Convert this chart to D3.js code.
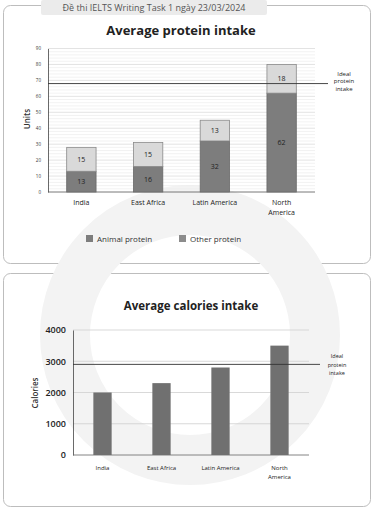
<!DOCTYPE html>
<html>
<head>
<meta charset="utf-8">
<script src="https://cdn.jsdelivr.net/npm/d3@7"></script>
<style>
  html, body { margin: 0; padding: 0; background: #fff; }
  svg { display: block; font-family: "Open Sans", "Noto Sans", sans-serif; }
</style>
</head>
<body>
<svg id="chart" width="374" height="512"></svg>
<script>
// --- Data ---
const regions = ['India', 'East Africa', 'Latin America', 'North America'];
const animalProtein = [13, 16, 32, 62];
const otherProtein = [15, 15, 13, 18];
const proteinTicks = [0, 10, 20, 30, 40, 50, 60, 70, 80, 90];
const idealProtein = 68;
const calories = [2000, 2300, 2800, 3500];
const calorieTicks = [0, 1000, 2000, 3000, 4000];
const idealCalories = 2900;
const idealLabel = ['Ideal', 'protein', 'intake'];

const svg = d3.select('#chart');

// --- Panels and header tab ---
svg.append('rect')
  .attr('x', 3.5).attr('y', 5.5).attr('width', 367).attr('height', 258)
  .attr('rx', 7).attr('fill', '#fff').attr('stroke', '#bdbdbd');
svg.append('rect')
  .attr('x', 3.5).attr('y', 273.5).attr('width', 367).attr('height', 233)
  .attr('rx', 7).attr('fill', '#fff').attr('stroke', '#bdbdbd');

svg.append('rect')
  .attr('x', 41).attr('y', 0).attr('width', 226).attr('height', 15)
  .attr('rx', 2).attr('fill', '#ebebeb');
svg.append('text')
  .attr('x', 154).attr('y', 10.5)
  .attr('text-anchor', 'middle')
  .attr('font-size', 9).attr('fill', '#555')
  .text('Đề thi IELTS Writing Task 1 ngày 23/03/2024');

// faint watermark ring
svg.append('circle')
  .attr('cx', 190).attr('cy', 335).attr('r', 125)
  .attr('fill', 'none').attr('stroke', '#f3f3f3').attr('stroke-width', 50);

// ============================================================
// Protein chart
// ============================================================
const p = { left: 48, right: 315, top: 48.5, bottom: 192 };

const xP = d3.scaleBand()
  .domain(regions)
  .range([p.left, p.right])
  .paddingInner(0.56)
  .paddingOuter(0.28);

const yP = d3.scaleLinear().domain([0, 90]).range([p.bottom, p.top]);

svg.append('text')
  .attr('x', 181).attr('y', 35)
  .attr('text-anchor', 'middle')
  .attr('font-size', 13).attr('font-weight', 700).attr('fill', '#222')
  .text('Average protein intake');

// minor + major gridlines
const gP = svg.append('g');
gP.selectAll('line.minor')
  .data(d3.range(2, 90, 2).filter(v => v % 10 !== 0))
  .enter().append('line')
  .attr('x1', p.left).attr('x2', p.right)
  .attr('y1', d => yP(d)).attr('y2', d => yP(d))
  .attr('stroke', '#ececec').attr('stroke-width', 0.7);
gP.selectAll('line.major')
  .data(proteinTicks.slice(1))
  .enter().append('line')
  .attr('x1', p.left).attr('x2', p.right)
  .attr('y1', d => yP(d)).attr('y2', d => yP(d))
  .attr('stroke', '#dcdcdc').attr('stroke-width', 0.8);

// y axis
const axP = svg.append('g')
  .attr('transform', `translate(${p.left},0)`)
  .call(d3.axisLeft(yP).tickValues(proteinTicks).tickSize(0).tickPadding(7));
axP.select('.domain').attr('stroke', '#444').attr('stroke-width', 0.8);
axP.selectAll('text').attr('font-size', 4.5).attr('fill', '#333').attr('font-family', 'Open Sans');

svg.append('line')
  .attr('x1', p.left).attr('x2', p.right)
  .attr('y1', p.bottom).attr('y2', p.bottom)
  .attr('stroke', '#555').attr('stroke-width', 0.8);

svg.append('text')
  .attr('transform', 'translate(30,119) rotate(-90)')
  .attr('text-anchor', 'middle')
  .attr('font-size', 8).attr('font-weight', 600).attr('fill', '#333')
  .text('Units');

// stacked bars
const stacked = regions.map((r, i) => ({ region: r, animal: animalProtein[i], other: otherProtein[i] }));

const barsP = svg.append('g');
barsP.selectAll('rect.animal')
  .data(stacked)
  .enter().append('rect')
  .attr('x', d => xP(d.region))
  .attr('width', xP.bandwidth())
  .attr('y', d => yP(d.animal))
  .attr('height', d => yP(0) - yP(d.animal))
  .attr('fill', '#7d7d7d').attr('stroke', '#6a6a6a').attr('stroke-width', 0.8);
barsP.selectAll('rect.other')
  .data(stacked)
  .enter().append('rect')
  .attr('x', d => xP(d.region))
  .attr('width', xP.bandwidth())
  .attr('y', d => yP(d.animal + d.other))
  .attr('height', d => yP(d.animal) - yP(d.animal + d.other))
  .attr('fill', '#d9d9d9').attr('stroke', '#8a8a8a').attr('stroke-width', 0.8);

barsP.selectAll('text.animal')
  .data(stacked)
  .enter().append('text')
  .attr('x', d => xP(d.region) + xP.bandwidth() / 2)
  .attr('y', d => yP(d.animal / 2) + 2.5)
  .attr('text-anchor', 'middle')
  .attr('font-size', 7).attr('fill', '#222')
  .text(d => d.animal);
barsP.selectAll('text.other')
  .data(stacked)
  .enter().append('text')
  .attr('x', d => xP(d.region) + xP.bandwidth() / 2)
  .attr('y', d => yP(d.animal + d.other / 2) + 2.5)
  .attr('text-anchor', 'middle')
  .attr('font-size', 7).attr('fill', '#222')
  .text(d => d.other);

// ideal line + label
svg.append('line')
  .attr('x1', p.left).attr('x2', 328)
  .attr('y1', yP(idealProtein)).attr('y2', yP(idealProtein))
  .attr('stroke', '#333').attr('stroke-width', 0.9);
svg.append('text')
  .attr('x', 344).attr('y', yP(idealProtein) - 8)
  .attr('text-anchor', 'middle')
  .attr('font-size', 6).attr('fill', '#222')
  .selectAll('tspan').data(idealLabel).enter().append('tspan')
  .attr('x', 344).attr('dy', (d, i) => i === 0 ? 0 : 7.5)
  .text(d => d);

// x labels
const xLabP = svg.append('g');
regions.forEach(r => {
  const words = r === 'North America' ? ['North', 'America'] : [r];
  const t = xLabP.append('text')
    .attr('x', xP(r) + xP.bandwidth() / 2).attr('y', 205)
    .attr('text-anchor', 'middle')
    .attr('font-size', 7).attr('fill', '#222');
  words.forEach((w, i) => {
    t.append('tspan').attr('x', xP(r) + xP.bandwidth() / 2).attr('dy', i ? 10 : 0).text(w);
  });
});

// legend
const legend = [
  { label: 'Animal protein', x: 86, color: '#7d7d7d' },
  { label: 'Other protein', x: 179, color: '#8c8c8c' }
];
const lg = svg.selectAll('g.legend').data(legend).enter().append('g');
lg.append('rect')
  .attr('x', d => d.x).attr('y', 235).attr('width', 7).attr('height', 7)
  .attr('fill', d => d.color);
lg.append('text')
  .attr('x', d => d.x + 11).attr('y', 241.5)
  .attr('font-size', 8).attr('fill', '#333')
  .text(d => d.label);

// ============================================================
// Calories chart
// ============================================================
const c = { left: 73, right: 309, top: 330, bottom: 455 };

const xC = d3.scaleBand()
  .domain(regions)
  .range([c.left, c.right])
  .paddingInner(0.69)
  .paddingOuter(0.345);

const yC = d3.scaleLinear().domain([0, 4000]).range([c.bottom, c.top]);

svg.append('text')
  .attr('x', 191).attr('y', 310)
  .attr('text-anchor', 'middle')
  .attr('font-size', 11.5).attr('font-weight', 700).attr('fill', '#222')
  .text('Average calories intake');

svg.append('g').selectAll('line')
  .data(calorieTicks.slice(1))
  .enter().append('line')
  .attr('x1', c.left).attr('x2', c.right)
  .attr('y1', d => yC(d)).attr('y2', d => yC(d))
  .attr('stroke', '#cfcfcf').attr('stroke-width', 0.8);

const axC = svg.append('g')
  .attr('transform', `translate(${c.left},0)`)
  .call(d3.axisLeft(yC).tickValues(calorieTicks).tickSize(0).tickPadding(7).tickFormat(d3.format('d')));
axC.select('.domain').attr('stroke', '#444').attr('stroke-width', 0.8);
axC.selectAll('text').attr('font-size', 9).attr('font-weight', 600).attr('fill', '#222').attr('font-family', 'Open Sans');

svg.append('line')
  .attr('x1', c.left).attr('x2', c.right)
  .attr('y1', c.bottom).attr('y2', c.bottom)
  .attr('stroke', '#666').attr('stroke-width', 0.8);

svg.append('text')
  .attr('transform', 'translate(38,393) rotate(-90)')
  .attr('text-anchor', 'middle')
  .attr('font-size', 8).attr('font-weight', 600).attr('fill', '#333')
  .text('Calories');

svg.append('g').selectAll('rect')
  .data(regions.map((r, i) => ({ region: r, value: calories[i] })))
  .enter().append('rect')
  .attr('x', d => xC(d.region))
  .attr('width', xC.bandwidth())
  .attr('y', d => yC(d.value))
  .attr('height', d => yC(0) - yC(d.value))
  .attr('fill', '#707070');

svg.append('line')
  .attr('x1', c.left).attr('x2', 320)
  .attr('y1', yC(idealCalories)).attr('y2', yC(idealCalories))
  .attr('stroke', '#333').attr('stroke-width', 0.9);
svg.append('text')
  .attr('font-size', 5.5).attr('fill', '#222')
  .attr('text-anchor', 'middle')
  .selectAll('tspan').data(idealLabel).enter().append('tspan')
  .attr('x', 337).attr('y', (d, i) => yC(idealCalories) - 6 + i * 8.5)
  .text(d => d);

const xLabC = svg.append('g');
regions.forEach(r => {
  const words = r === 'North America' ? ['North', 'America'] : [r];
  const t = xLabC.append('text')
    .attr('x', xC(r) + xC.bandwidth() / 2).attr('y', 470)
    .attr('text-anchor', 'middle')
    .attr('font-size', 6).attr('fill', '#222');
  words.forEach((w, i) => {
    t.append('tspan').attr('x', xC(r) + xC.bandwidth() / 2).attr('dy', i ? 9 : 0).text(w);
  });
});
</script>
</body>
</html>
